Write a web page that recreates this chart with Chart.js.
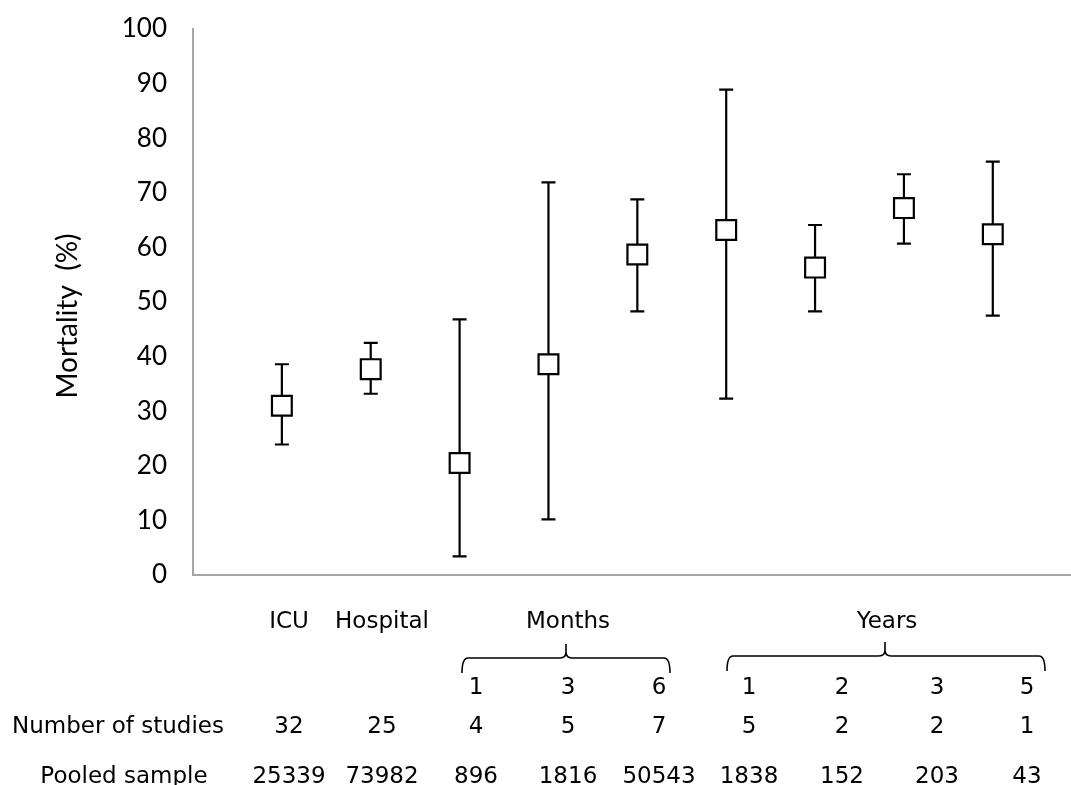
<!DOCTYPE html>
<html>
<head>
<meta charset="utf-8">
<title>Mortality by follow-up period</title>
<script src="https://cdn.jsdelivr.net/npm/chart.js@4.4.1/dist/chart.umd.min.js"></script>
<style>
  html, body { margin: 0; padding: 0; background: #ffffff; }
  #wrap { width: 1071px; height: 785px; position: relative; }
  canvas { display: block; }
</style>
</head>
<body>
<div id="wrap"><canvas id="chart" width="1071" height="785"></canvas></div>
<script>
// Follow-up settings, in plotting order
const settingLabels = ['ICU', 'Hospital', '', '', '', '', '', '', ''];
const followUpLabels = ['', '', '1', '3', '6', '1', '2', '3', '5'];
const groupLabels = ['Months', 'Years'];

// Pooled mortality (%) with lower / upper limits
const mortality = [31.0, 37.7, 20.5, 38.6, 58.7, 63.2, 56.3, 67.2, 62.4];
const lowerLimit = [23.9, 33.2, 3.4, 10.2, 48.3, 32.3, 48.3, 60.7, 47.5];
const upperLimit = [38.6, 42.5, 46.8, 71.9, 68.8, 88.9, 64.1, 73.4, 75.7];

// Table rows under the axis
const studiesCount = [32, 25, 4, 5, 7, 5, 2, 2, 1];
const pooledSample = [25339, 73982, 896, 1816, 50543, 1838, 152, 203, 43];

// Y axis ticks
const yTicks = [0, 10, 20, 30, 40, 50, 60, 70, 80, 90, 100];

// Layout of the table beneath the plot (pixel columns / rows)
const tableColumns = [289, 382, 476, 568, 659, 749, 842, 937, 1027];
const rowBaselines = { setting: 628, followUp: 694, studies: 733, pooled: 783 };
const rowTitleCenter = 118;
const braceSpans = [
  { left: 462, right: 670, mid: 566, line: 658 },
  { left: 727, right: 1045, mid: 885, line: 656 }
];

const tableFont = '23px "DejaVu Sans", sans-serif';
const axisFont = 'Lato, "Open Sans", sans-serif';

const points = mortality.map((v, i) => ({ x: i + 1, y: v }));

// Error bars drawn through the scales before the markers
const errorBars = {
  id: 'errorBars',
  beforeDatasetsDraw(chart) {
    const { ctx, scales: { x, y } } = chart;
    ctx.save();
    ctx.strokeStyle = '#000000';
    ctx.lineWidth = 2.2;
    const cap = 7;
    mortality.forEach((v, i) => {
      const px = x.getPixelForValue(i + 1);
      const yLo = y.getPixelForValue(lowerLimit[i]);
      const yHi = y.getPixelForValue(upperLimit[i]);
      ctx.beginPath();
      ctx.moveTo(px, yLo);
      ctx.lineTo(px, yHi);
      ctx.moveTo(px - cap, yHi);
      ctx.lineTo(px + cap, yHi);
      ctx.moveTo(px - cap, yLo);
      ctx.lineTo(px + cap, yLo);
      ctx.stroke();
    });
    ctx.restore();
  }
};

// Axis title, category labels, braces and the study table
const annotations = {
  id: 'annotations',
  afterDraw(chart) {
    const { ctx } = chart;
    ctx.save();

    // y axis title
    ctx.save();
    ctx.translate(68, 316);
    ctx.rotate(-Math.PI / 2);
    ctx.font = '28px ' + axisFont;
    ctx.fillStyle = '#000000';
    ctx.textAlign = 'center';
    ctx.textBaseline = 'middle';
    ctx.fillText('Mortality  (%)', 0, 0);
    ctx.restore();

    ctx.font = tableFont;
    ctx.fillStyle = '#000000';
    ctx.textAlign = 'center';
    ctx.textBaseline = 'alphabetic';

    settingLabels.forEach((t, i) => {
      if (t) ctx.fillText(t, tableColumns[i], rowBaselines.setting);
    });
    followUpLabels.forEach((t, i) => {
      if (t) ctx.fillText(t, tableColumns[i], rowBaselines.followUp);
    });

    // group headings with braces
    groupLabels.forEach((g, k) => {
      const b = braceSpans[k];
      ctx.fillText(g, b.mid + 2, rowBaselines.setting);
      const r = 6;
      const end = b.line + 15;
      const peak = b.line - 14;
      ctx.save();
      ctx.strokeStyle = '#000000';
      ctx.lineWidth = 1.6;
      ctx.beginPath();
      ctx.moveTo(b.left, end);
      ctx.quadraticCurveTo(b.left, b.line, b.left + r, b.line);
      ctx.lineTo(b.mid - r, b.line);
      ctx.quadraticCurveTo(b.mid, b.line, b.mid, b.line - r);
      ctx.lineTo(b.mid, peak);
      ctx.moveTo(b.mid, b.line - r);
      ctx.quadraticCurveTo(b.mid, b.line, b.mid + r, b.line);
      ctx.lineTo(b.right - r, b.line);
      ctx.quadraticCurveTo(b.right, b.line, b.right, end);
      ctx.stroke();
      ctx.restore();
    });

    ctx.fillText('Number of studies', rowTitleCenter, rowBaselines.studies);
    ctx.fillText('Pooled sample', rowTitleCenter + 6, rowBaselines.pooled);
    studiesCount.forEach((n, i) => ctx.fillText(String(n), tableColumns[i], rowBaselines.studies));
    pooledSample.forEach((n, i) => ctx.fillText(String(n), tableColumns[i], rowBaselines.pooled));

    ctx.restore();
  }
};

new Chart(document.getElementById('chart'), {
  type: 'scatter',
  data: {
    datasets: [{
      label: 'Mortality',
      data: points,
      pointStyle: 'rect',
      pointRadius: 14,
      pointHoverRadius: 14,
      pointBorderWidth: 2.2,
      pointHoverBorderWidth: 2.2,
      pointBackgroundColor: '#ffffff',
      pointBorderColor: '#000000',
      showLine: false
    }]
  },
  plugins: [errorBars, annotations],
  options: {
    responsive: false,
    animation: false,
    devicePixelRatio: 1,
    layout: { autoPadding: false, padding: { top: 29, left: 0, right: 0, bottom: 210 } },
    plugins: {
      legend: { display: false },
      tooltip: { enabled: false },
      title: { display: false }
    },
    scales: {
      x: {
        type: 'linear',
        min: 0,
        max: 9.88,
        afterFit(s) {
          s.height = 0;
          s.paddingLeft = 0; s.paddingRight = 0; s.paddingTop = 0; s.paddingBottom = 0;
        },
        ticks: { display: false },
        grid: { display: true, drawOnChartArea: false, drawTicks: false },
        border: { display: true, color: '#a6a6a6', width: 2 }
      },
      y: {
        min: 0,
        max: 100,
        afterBuildTicks(s) { s.ticks = yTicks.map(v => ({ value: v })); },
        afterFit(s) {
          s.width = 193;
          s.paddingLeft = 0; s.paddingRight = 0; s.paddingTop = 0; s.paddingBottom = 0;
        },
        ticks: {
          padding: 26,
          color: '#000000',
          font: { family: axisFont, size: 26 }
        },
        grid: { display: true, drawOnChartArea: false, drawTicks: false },
        border: { display: true, color: '#a6a6a6', width: 2 }
      }
    }
  }
});
</script>
</body>
</html>
